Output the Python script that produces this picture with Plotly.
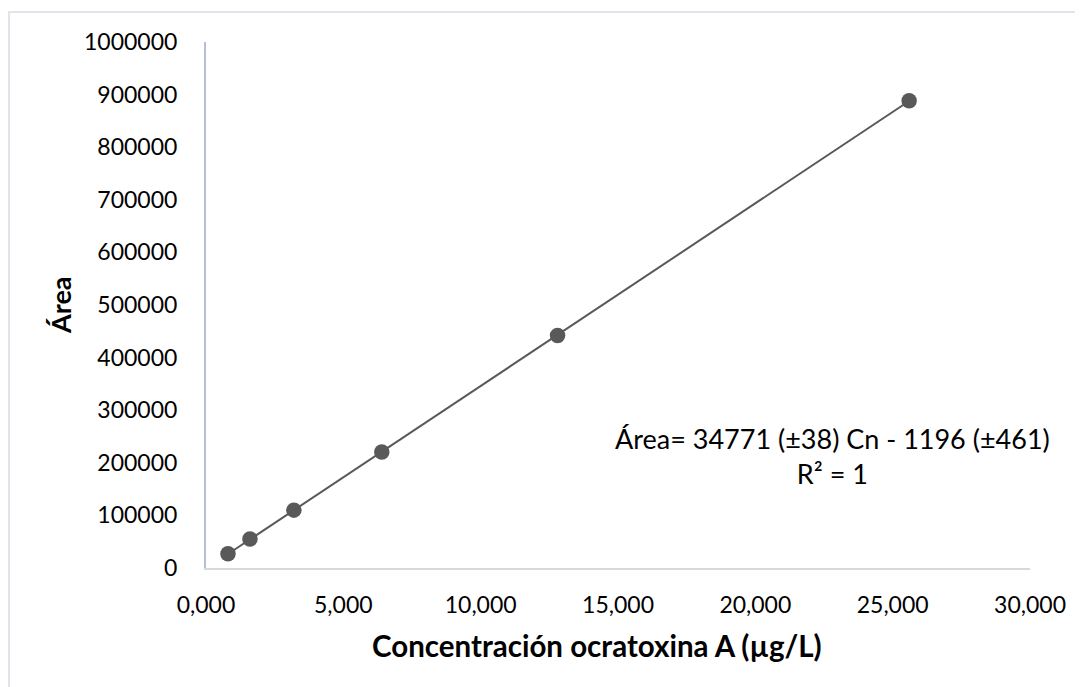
import numpy as np
import plotly.graph_objects as go

conc = [0.8, 1.6, 3.2, 6.4, 12.8, 25.6]
area = [27000, 55000, 110000, 220500, 442000, 888500]
x_ticks = [0, 5, 10, 15, 20, 25, 30]
x_labels = ["0,000", "5,000", "10,000", "15,000", "20,000", "25,000", "30,000"]
y_ticks = [0, 100000, 200000, 300000, 400000, 500000, 600000, 700000, 800000, 900000, 1000000]
eq_text = "Área= 34771 (±38) Cn - 1196 (±461)<br>R² = 1"
x_title = "<b>Concentración ocratoxina A (µg/L)</b>"
y_title = "<b>Área</b>"

slope, intercept = np.polyfit(conc, area, 1)
xl = [min(conc), max(conc)]
yl = [slope * v + intercept for v in xl]

OFF = 8  # page body margin
W, H = 1083 - OFF, 687 - OFF
L, T = 206 - OFF, 42 - OFF
R, B = W + OFF - 1030, H + OFF - 568
pw, ph = W - L - R, H - T - B

def px_x(p):
    return (p - OFF - L) / pw

def px_y(p):
    return (H - B - (p - OFF)) / ph

fig = go.Figure()
fig.add_trace(go.Scatter(x=xl, y=yl, mode="lines",
                         line=dict(color="#595959", width=2), hoverinfo="skip"))
fig.add_trace(go.Scatter(x=conc, y=area, mode="markers",
                         marker=dict(color="#595959", size=15.5, line=dict(width=0))))

font = "Lato, 'Open Sans', sans-serif"
fig.update_layout(
    width=W, height=H, showlegend=False,
    margin=dict(l=L, r=R, t=T, b=B),
    paper_bgcolor="white", plot_bgcolor="white",
    font=dict(family=font, size=23, color="#000000"),
    xaxis=dict(range=[0, 30], tickvals=x_ticks, ticktext=x_labels,
               showgrid=False, zeroline=False, showline=True,
               linecolor="#d9d9d9", linewidth=2, ticks="outside", ticklen=15,
               tickcolor="rgba(0,0,0,0)", tickfont=dict(size=23)),
    yaxis=dict(range=[0, 1000000], tickvals=y_ticks,
               ticktext=[str(v) for v in y_ticks],
               showgrid=False, zeroline=False, showline=True,
               linecolor="#b4c0d8", linewidth=2, ticks="outside", ticklen=22,
               tickcolor="rgba(0,0,0,0)", tickfont=dict(size=23)),
    shapes=[dict(type="rect", xref="paper", yref="paper",
                 x0=px_x(9), x1=px_x(1110),
                 y0=px_y(710), y1=px_y(12),
                 line=dict(color="#e1e4ea", width=2), fillcolor="rgba(0,0,0,0)",
                 layer="below")],
    annotations=[
        dict(text=eq_text, xref="x", yref="y", x=22.8, y=213000,
             showarrow=False, align="center", font=dict(size=27)),
        dict(text=x_title, xref="paper", yref="paper", x=px_x(597), y=px_y(645),
             xanchor="center", yanchor="middle", showarrow=False,
             font=dict(size=29.5)),
        dict(text=y_title, xref="paper", yref="paper", x=px_x(60), y=px_y(305),
             xanchor="center", yanchor="middle", textangle=-90, showarrow=False,
             font=dict(size=27)),
    ],
)

fig.write_html("out.html")
